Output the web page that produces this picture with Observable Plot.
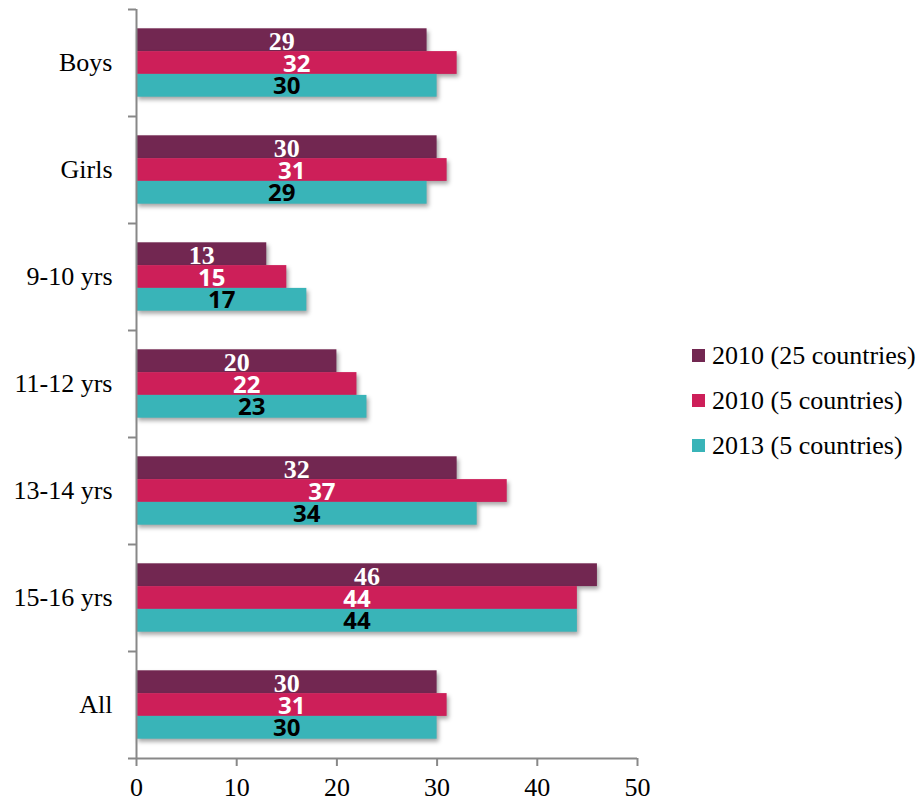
<!DOCTYPE html>
<html>
<head>
<meta charset="utf-8">
<script src="https://cdn.jsdelivr.net/npm/d3@7"></script>
<script src="https://cdn.jsdelivr.net/npm/@observablehq/plot@0.6"></script>
<style>
  html, body { margin: 0; padding: 0; background: white; }
  #wrap { position: relative; width: 922px; height: 801px; }
  #legend { position: absolute; left: 692px; top: 333px; font-family: "Liberation Serif", serif; font-size: 26px; color: black; }
  #legend .row { display: flex; align-items: center; height: 45px; white-space: nowrap; }
  #legend .sw { width: 13px; height: 13px; margin-right: 7px; }
</style>
</head>
<body>
<div id="wrap"><div id="chart"></div><div id="legend"></div></div>
<script>
const categories = ["Boys", "Girls", "9-10 yrs", "11-12 yrs", "13-14 yrs", "15-16 yrs", "All"];
const seriesNames = ["2010 (25 countries)", "2010 (5 countries)", "2013 (5 countries)"];
const values2010_25 = [29, 30, 13, 20, 32, 46, 30];
const values2010_5 = [32, 31, 15, 22, 37, 44, 31];
const values2013_5 = [30, 29, 17, 23, 34, 44, 30];
const seriesColors = ["#722751", "#CD1F59", "#39B4B8"];
const labelColors = ["white", "white", "black"];
const labelFonts = ["Liberation Serif", "Open Sans", "Open Sans"];
const xTicks = [0, 10, 20, 30, 40, 50];
const xDomain = [0, 50];

const seriesValues = [values2010_25, values2010_5, values2013_5];
const table = [];
seriesValues.forEach((vals, s) => vals.forEach((v, c) => table.push({category: categories[c], series: s, value: v})));

const W = 922, H = 801, mT = 9, mB = 43, mL = 136, mR = 285;
const step = (H - mT - mB) / categories.length;
const barH = 22.8;
const off = (step - 3 * barH) / 2;

const marks = [];
seriesValues.forEach((_, s) => {
  marks.push(Plot.barX(table.filter(d => d.series === s), {
    x: "value", y: "category", fill: seriesColors[s],
    insetTop: off + s * barH, insetBottom: step - off - (s + 1) * barH
  }));
});
seriesValues.forEach((_, s) => {
  marks.push(Plot.text(table.filter(d => d.series === s), {
    x: d => d.value / 2, y: "category", text: d => String(d.value),
    dy: (s - 1) * barH + 1, fill: labelColors[s], fontFamily: labelFonts[s],
    fontWeight: "bold", fontSize: s === 0 ? 26 : 24, lineAnchor: "middle"
  }));
});
marks.push(Plot.ruleX([0], {stroke: "#888", strokeWidth: 2}));
marks.push(Plot.ruleY(categories, {y: d => d, dy: -step / 2, x1: 0, x2: 0, insetLeft: -8, stroke: "#888", strokeWidth: 2}));
marks.push(Plot.ruleY([categories[categories.length - 1]], {y: d => d, dy: step / 2, x1: xDomain[0], x2: xDomain[1], insetLeft: -8, stroke: "#888", strokeWidth: 2}));
marks.push(Plot.axisY({tickSize: 0, tickPadding: 24, fontSize: 26, fill: "black", label: null}));
marks.push(Plot.axisX({ticks: xTicks, tickSize: 8, tickPadding: 11, fontSize: 26, stroke: "#888", strokeWidth: 2, fill: "black", label: null}));

const chart = Plot.plot({
  width: W, height: H, marginTop: mT, marginBottom: mB, marginLeft: mL, marginRight: mR,
  x: {domain: xDomain},
  y: {domain: categories, padding: 0},
  style: {fontFamily: "Liberation Serif", fontSize: "26px", color: "black", background: "white", overflow: "visible"},
  marks
});
chart.querySelectorAll('g[aria-label="bar"]').forEach(g => {
  g.style.filter = "drop-shadow(2px 3px 2px rgba(0,0,0,0.35))";
});
document.getElementById("chart").appendChild(chart);

const legend = document.getElementById("legend");
seriesNames.forEach((name, i) => {
  const row = document.createElement("div");
  row.className = "row";
  const sw = document.createElement("div");
  sw.className = "sw";
  sw.style.background = seriesColors[i];
  const t = document.createElement("span");
  t.textContent = name;
  row.appendChild(sw); row.appendChild(t);
  legend.appendChild(row);
});
</script>
</body>
</html>
